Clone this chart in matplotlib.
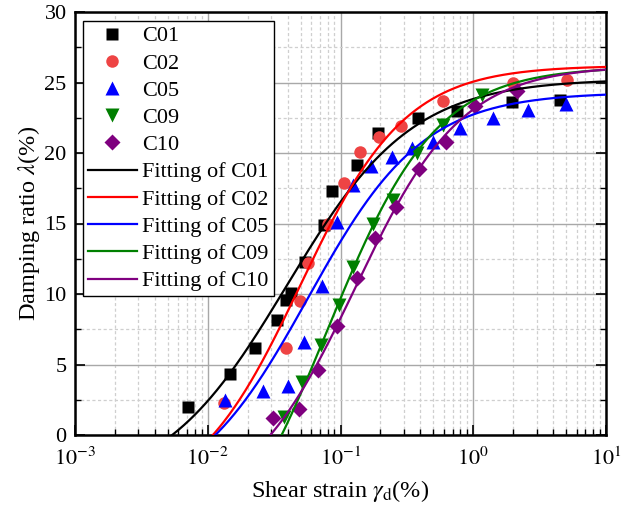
import numpy as np
import matplotlib
matplotlib.use("Agg")
import matplotlib.pyplot as plt
from matplotlib.ticker import LogLocator, MultipleLocator, NullFormatter, FixedLocator, FixedFormatter

plt.rcParams["font.family"] = ["Liberation Serif", "DejaVu Serif"]
plt.rcParams["mathtext.fontset"] = "stix"

# ---- measured data (shear strain %, damping ratio %) ----
c01_x = [0.0071, 0.0147, 0.0227, 0.0333, 0.0388, 0.0424, 0.054, 0.0752, 0.0863, 0.133, 0.192, 0.384, 0.755, 1.96, 4.5]
c01_y = [1.99, 4.33, 6.17, 8.16, 9.57, 10.07, 12.27, 14.9, 17.3, 19.15, 21.4, 22.5, 23.0, 23.6, 23.76]

c02_x = [0.0132, 0.0388, 0.0496, 0.0569, 0.0805, 0.106, 0.140, 0.195, 0.286, 0.592, 1.99, 5.08]
c02_y = [2.3, 6.17, 9.5, 12.2, 15.0, 17.9, 20.07, 21.1, 21.9, 23.7, 25.0, 25.15]

c05_x = [0.0135, 0.0261, 0.0403, 0.0531, 0.0726, 0.0942, 0.124, 0.170, 0.244, 0.346, 0.497, 0.794, 1.41, 2.58, 5.0]
c05_y = [2.5, 3.15, 3.45, 6.6, 10.6, 15.1, 17.7, 19.1, 19.7, 20.35, 20.8, 21.8, 22.5, 23.05, 23.45]

c09_x = [0.0375, 0.0513, 0.0713, 0.0975, 0.124, 0.176, 0.248, 0.377, 0.592, 1.16]
c09_y = [1.3, 3.76, 6.4, 9.2, 11.9, 15.0, 16.7, 20.0, 22.0, 24.1]

c10_x = [0.031, 0.0486, 0.0676, 0.094, 0.133, 0.182, 0.262, 0.390, 0.624, 1.03, 2.14]
c10_y = [1.2, 1.84, 4.6, 7.7, 11.1, 14.0, 16.2, 18.9, 20.8, 23.3, 24.4]

# ---- logistic fit parameters: y = A2 + (A1 - A2) / (1 + (x/x0)^p) ----
fit_A1 = [-4.06, -5.045, -4.874, -11.302, -5.356]
fit_A2 = [25.255, 26.2, 24.303, 26.122, 26.199]
fit_x0 = [0.03936, 0.04955, 0.05688, 0.07943, 0.12882]
fit_p = [0.920, 1.090, 1.000, 1.060, 1.080]

names = ["C01", "C02", "C05", "C09", "C10"]
xs = [c01_x, c02_x, c05_x, c09_x, c10_x]
ys = [c01_y, c02_y, c05_y, c09_y, c10_y]

xticks = [1e-3, 1e-2, 1e-1, 1e0, 1e1]
xticklabels = [r"$10^{-3}$", r"$10^{-2}$", r"$10^{-1}$", r"$10^{0}$", r"$10^{1}$"]
yticks = [0, 5, 10, 15, 20, 25, 30]

marker_styles = ["s", "o", "^", "v", "D"]
marker_colors = ["#000000", "#EE4444", "#0000FF", "#007F00", "#7F007F"]
marker_sizes = [8.5, 9, 9.5, 9.5, 8]
line_colors = ["#000000", "#FF0000", "#0000FF", "#008000", "#800080"]

fig = plt.figure(figsize=(6.37, 5.17), dpi=100)
ax = fig.add_axes([75/637, 82/517, 531/637, 423/517])

ax.set_xscale("log")
ax.set_xlim(1e-3, 10)
ax.set_ylim(0, 30)

ax.xaxis.set_major_locator(FixedLocator(xticks))
ax.xaxis.set_major_formatter(FixedFormatter(xticklabels))
ax.xaxis.set_minor_locator(LogLocator(base=10, subs=np.arange(2, 10), numticks=20))
ax.xaxis.set_minor_formatter(NullFormatter())
ax.yaxis.set_major_locator(FixedLocator(yticks))
ax.yaxis.set_minor_locator(MultipleLocator(2.5))
ax.grid(True, which="major", color="#A8A8A8", lw=1.0, ls="-", zorder=0)
ax.grid(True, which="minor", color="#CFCFCF", lw=0.9, ls=(0, (2.5, 2)), zorder=0)
ax.set_axisbelow(True)

xx = np.logspace(-3, 1, 600)
handles_pts = []
handles_fit = []
for i, n in enumerate(names):
    h, = ax.plot(xs[i], ys[i], linestyle="none", marker=marker_styles[i], color=marker_colors[i],
                 ms=marker_sizes[i], mec="none", zorder=3, label=n)
    handles_pts.append(h)
for i, n in enumerate(names):
    yy = fit_A2[i] + (fit_A1[i] - fit_A2[i]) / (1 + (xx / fit_x0[i]) ** fit_p[i])
    h, = ax.plot(xx, yy, color=line_colors[i], lw=1.6, zorder=4, label="Fitting of " + n)
    handles_fit.append(h)

for s in ax.spines.values():
    s.set_linewidth(1.8)

ax.tick_params(axis="both", which="major", direction="in", length=7, width=1.2,
               labelsize=16, right=True, top=False, pad=6)
ax.tick_params(axis="both", which="minor", direction="in", length=4, width=1.0, right=True, top=False)
ax.tick_params(axis="x", which="major", pad=9)

ax.set_xlabel(r"Shear strain $\gamma_{\rm d}$(%)", fontsize=17.5, labelpad=6)
ax.set_ylabel(r"Damping ratio $\lambda$(%)", fontsize=17.5, labelpad=2)

leg = ax.legend(handles=handles_pts + handles_fit, loc="upper left",
                bbox_to_anchor=(0.015, 0.979), borderaxespad=0, fontsize=16,
                frameon=True, fancybox=False, framealpha=1, edgecolor="black",
                handlelength=2.2, handletextpad=0.25, labelspacing=0.3,
                borderpad=0.22, numpoints=1, markerscale=1.0)
leg.get_frame().set_linewidth(1.0)
leg.set_zorder(6)

fig.savefig("out.png", dpi=100)
